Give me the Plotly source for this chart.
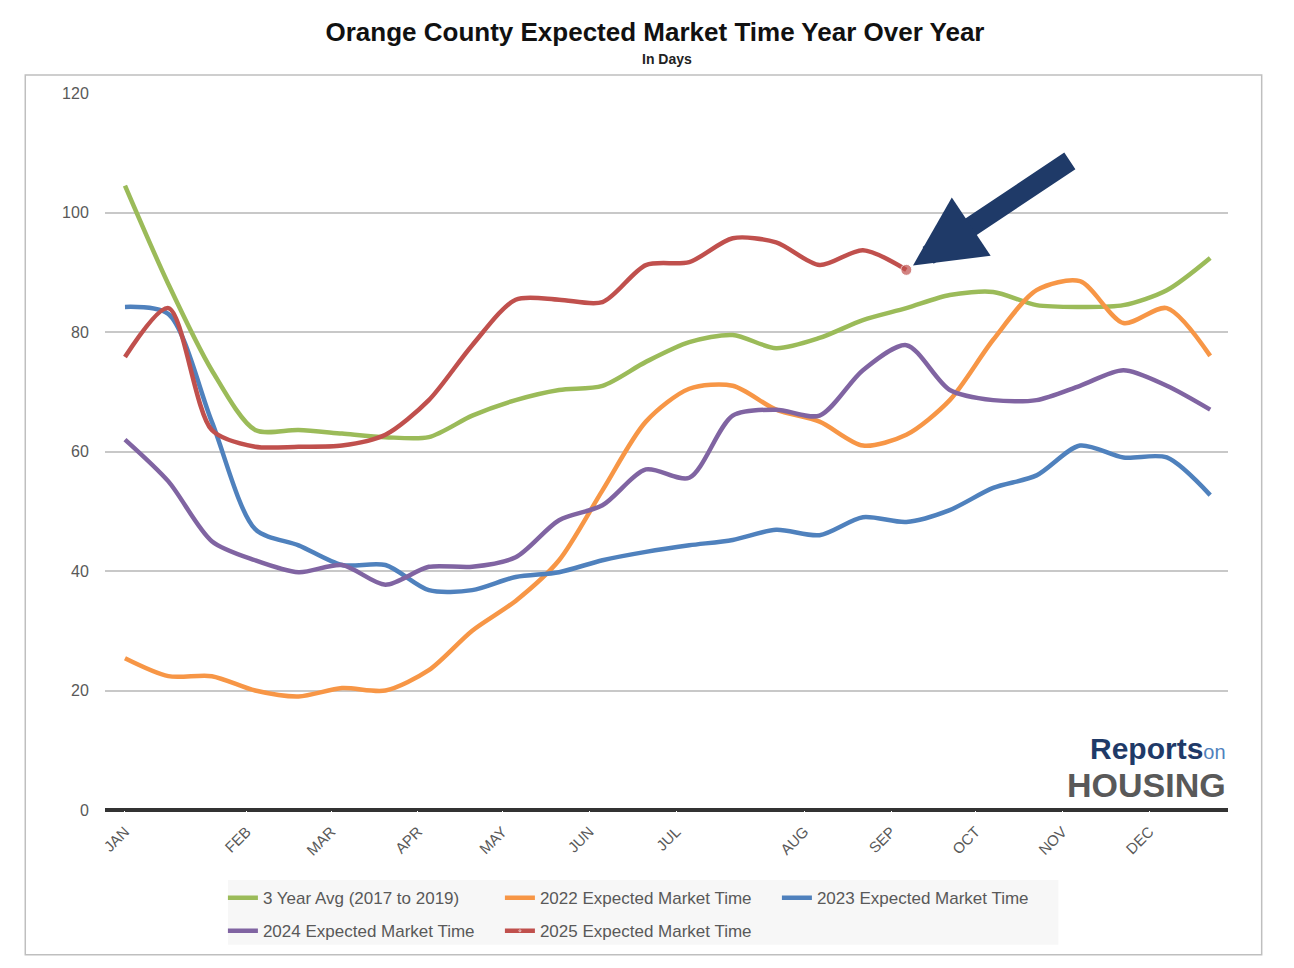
import plotly.graph_objects as go

# data: roughly biweekly readings, index 0..25 through the year
idx = list(range(26))
month_labels = ["JAN", "FEB", "MAR", "APR", "MAY", "JUN", "JUL", "AUG", "SEP", "OCT", "NOV", "DEC"]
month_pos = [0, 2.8, 4.75, 6.75, 8.7, 10.7, 12.7, 15.65, 17.65, 19.6, 21.6, 23.6]

avg_3yr = [104.5, 88, 73.6, 63.6, 63.6, 63, 62.4, 62.4, 66, 68.6, 70.3, 71, 75, 78.3,
           79.5, 77.3, 79, 82, 84, 86.2, 86.7, 84.5, 84.2, 84.5, 87, 92.4]
y2022 = [25.4, 22.4, 22.4, 20, 19, 20.4, 20, 23.4, 30, 35, 41.8, 53.5, 65, 70.5,
         71, 67, 65, 61, 62.8, 68.6, 78.7, 87, 88.5, 81.5, 84, 76]
y2023 = [84.2, 83, 65, 47, 44.3, 41, 41, 36.8, 36.8, 39, 39.8, 41.8, 43.2, 44.3,
         45.2, 46.9, 46, 49, 48.2, 50.2, 53.9, 56, 61, 59, 59, 52.7]
y2024 = [62, 55, 45, 41.8, 39.8, 41, 37.7, 40.7, 40.7, 42.3, 48.5, 51, 57, 55.6,
         66, 67, 66, 73.6, 77.8, 70.3, 68.6, 68.6, 71, 73.6, 71, 67]
y2025 = [75.8, 84, 63.6, 60.8, 60.8, 61, 62.8, 68.6, 77.8, 85.4, 85.4, 85, 91.2, 91.7,
         95.7, 95, 91.2, 93.7, 90.4]

series = [
    ("3 Year Avg (2017 to 2019)", avg_3yr, "#9BBB59", "legend"),
    ("2022 Expected Market Time", y2022, "#F79646", "legend"),
    ("2023 Expected Market Time", y2023, "#4F81BD", "legend"),
    ("2024 Expected Market Time", y2024, "#8064A2", "legend2"),
]

fig = go.Figure()
for name, vals, color, leg in series:
    fig.add_trace(go.Scatter(
        x=idx[:len(vals)], y=vals, name=name, mode="lines", legend=leg,
        line=dict(color=color, width=4.5, shape="spline", smoothing=0.8),
    ))

n = len(y2025)
fig.add_trace(go.Scatter(
    x=idx[:n], y=y2025, name="2025 Expected Market Time", mode="lines+markers",
    legend="legend2",
    line=dict(color="#C0504D", width=4.5, shape="spline", smoothing=0.8),
    marker=dict(size=[0] * (n - 1) + [11], color="#C0504D"),
))

# big arrow pointing at the latest reading
fig.add_annotation(
    x=idx[n - 1], y=y2025[-1], xref="x", yref="y", text="",
    showarrow=True, arrowhead=2, arrowsize=0.7, arrowwidth=20,
    arrowcolor="#1F3A68", ax=165, ay=-110, standoff=8,
)

# logo text
fig.add_annotation(x=1.0, y=0.06, xref="paper", yref="paper", xanchor="right", yanchor="bottom",
                   text="<b>Reports</b><span style='font-size:20px;color:#4F81BD'>on</span>",
                   showarrow=False, font=dict(family="Arial", size=30, color="#1F3A68"))
fig.add_annotation(x=1.0, y=0.005, xref="paper", yref="paper", xanchor="right", yanchor="bottom",
                   text="<b>HOUSING</b>", showarrow=False,
                   font=dict(family="Arial", size=34, color="#595959"))

# subtitle
fig.add_annotation(x=0.5, y=1.033, xref="paper", yref="paper", yanchor="bottom",
                   text="<b>In Days</b>", showarrow=False,
                   font=dict(family="Arial", size=14, color="#222"))

legend_style = dict(orientation="h", xanchor="left", yanchor="top",
                    font=dict(size=17, color="#595959"), bgcolor="rgba(0,0,0,0)",
                    entrywidth=232, traceorder="normal")

fig.update_layout(
    width=1294, height=968,
    margin=dict(l=97, r=74, t=85, b=166),
    paper_bgcolor="white", plot_bgcolor="white",
    font=dict(family="Arial", color="#595959"),
    title=dict(
        text="<b>Orange County Expected Market Time Year Over Year</b>",
        x=0.5, y=0.985, xanchor="center", yanchor="top",
        font=dict(size=26, color="#111", family="Arial"),
    ),
    xaxis=dict(range=[-0.46, 25.41], tickmode="array", tickvals=month_pos,
               ticktext=month_labels, tickangle=-45, showgrid=False,
               zeroline=False, showline=False, tickfont=dict(size=15, color="#595959"),
               ticks="outside", ticklen=6, tickcolor="white"),
    yaxis=dict(range=[0, 120], dtick=20, showgrid=True, gridcolor="#C8C8C8",
               gridwidth=1.5, zeroline=True, zerolinecolor="#333", zerolinewidth=4,
               tickfont=dict(size=16, color="#595959"), ticklen=12, ticks="outside",
               tickcolor="white"),
    legend=dict(legend_style, x=0.105, y=-0.098),
    legend2=dict(legend_style, x=0.105, y=-0.144),
    shapes=[
        dict(type="rect", xref="paper", yref="paper", x0=0.1095, x1=0.849,
             y0=-0.188, y1=-0.0976, fillcolor="#F7F7F7", line=dict(width=0), layer="below"),
        dict(type="rect", xref="paper", yref="paper", x0=-0.071, x1=1.030,
             y0=-0.202, y1=1.025, line=dict(color="#BFBFBF", width=1.5)),
    ],
)

fig.write_html("out.html")
